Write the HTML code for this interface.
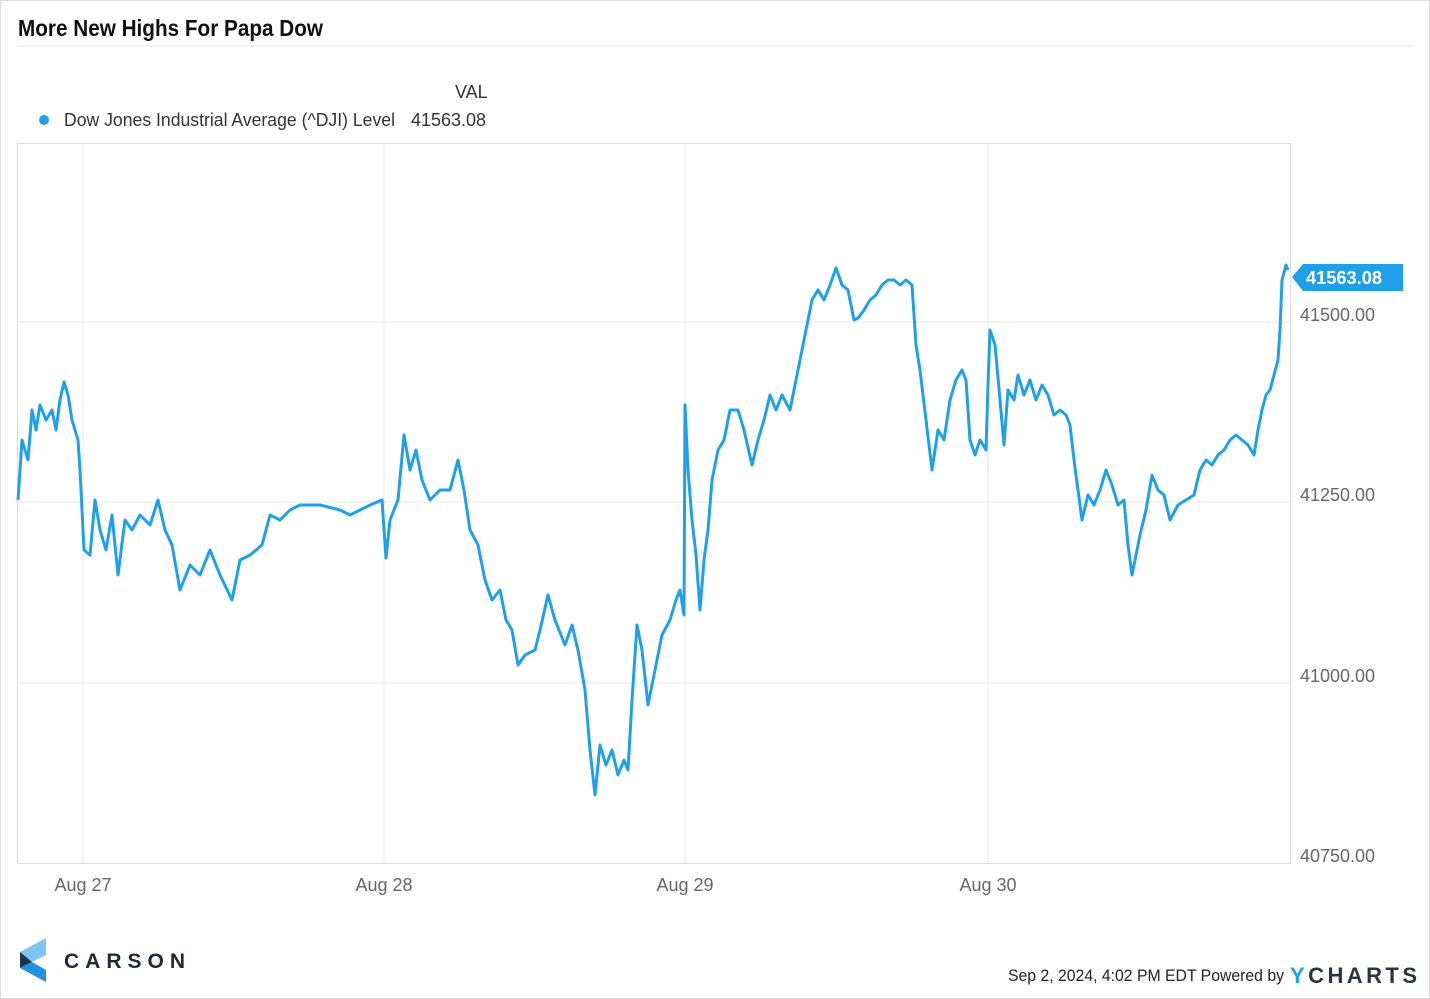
<!DOCTYPE html>
<html><head><meta charset="utf-8"><style>
html,body{margin:0;padding:0;background:#fff;width:1430px;height:999px;overflow:hidden;font-family:"Liberation Sans",sans-serif;}
</style></head><body>
<svg width="1430" height="999" viewBox="0 0 1430 999" xmlns="http://www.w3.org/2000/svg">
<rect x="0.5" y="0.5" width="1429" height="998" fill="#fff" stroke="#ddd"/>
<text x="18" y="36" font-size="23" font-weight="bold" fill="#111" textLength="305" lengthAdjust="spacingAndGlyphs">More New Highs For Papa Dow</text>
<line x1="17" y1="46" x2="1413" y2="46" stroke="#e3e3e3"/>
<text x="455" y="98" font-size="18" fill="#333">VAL</text>
<circle cx="44" cy="120" r="5" fill="#1fa0e8"/>
<text x="64" y="126" font-size="18" fill="#333" textLength="331" lengthAdjust="spacingAndGlyphs">Dow Jones Industrial Average (^DJI) Level</text>
<text x="411" y="126" font-size="18" fill="#333" textLength="75" lengthAdjust="spacingAndGlyphs">41563.08</text>
<rect x="17.5" y="143.5" width="1273" height="720" fill="none" stroke="#ddd"/>
<g stroke="#e8e8e8">
<line x1="17" y1="322" x2="1290" y2="322"/><line x1="17" y1="502" x2="1290" y2="502"/><line x1="17" y1="683" x2="1290" y2="683"/>
<line x1="83" y1="143" x2="83" y2="863"/><line x1="384" y1="143" x2="384" y2="863"/><line x1="685" y1="143" x2="685" y2="863"/><line x1="988" y1="143" x2="988" y2="863"/>
</g>
<g font-size="18" fill="#666">
<text x="1300" y="321" textLength="75" lengthAdjust="spacingAndGlyphs">41500.00</text><text x="1300" y="501" textLength="75" lengthAdjust="spacingAndGlyphs">41250.00</text><text x="1300" y="682" textLength="75" lengthAdjust="spacingAndGlyphs">41000.00</text><text x="1300" y="862" textLength="75" lengthAdjust="spacingAndGlyphs">40750.00</text>
<text x="83" y="891" text-anchor="middle">Aug 27</text><text x="384" y="891" text-anchor="middle">Aug 28</text><text x="685" y="891" text-anchor="middle">Aug 29</text><text x="988" y="891" text-anchor="middle">Aug 30</text>
</g>
<polyline fill="none" stroke="#1fa0e8" stroke-width="3" stroke-linejoin="round" points="18,500 22,440 28,460 32,410 36,430 40,405 46,420 52,410 56,430 60,400 64,382 68,395 72,420 78,440 80,470 84,550 90,555 95,500 100,530 106,550 112,515 118,575 125,520 132,530 140,515 150,525 158,500 165,530 172,545 180,590 190,565 200,575 210,550 220,575 232,600 240,560 250,555 262,545 270,515 280,520 290,510 300,505 320,505 340,510 350,515 370,505 382,500 386,558 390,520 398,500 404,435 410,470 416,450 422,480 430,500 440,490 450,490 458,460 464,490 470,530 478,545 485,580 492,600 500,590 506,620 512,630 518,665 525,655 535,650 540,630 548,595 555,620 565,645 572,625 578,650 585,690 590,750 595,795 600,745 606,765 612,750 618,775 624,760 628,770 632,700 637,625 642,650 648,705 655,670 662,635 670,620 676,600 680,590 684,615 685,405 688,470 692,520 696,555 700,610 704,560 708,530 712,480 718,450 724,440 730,410 738,410 744,430 752,465 758,440 764,420 770,395 776,410 782,395 790,410 796,380 802,350 806,330 812,300 818,290 824,300 830,285 836,268 842,285 848,290 854,320 858,318 864,310 870,300 876,295 882,285 888,280 894,280 900,285 906,280 912,285 916,345 920,370 926,420 932,470 938,430 944,440 950,400 956,380 962,370 966,380 970,440 975,455 980,440 986,450 988,385 990,330 995,345 1000,400 1004,445 1008,390 1014,400 1018,375 1024,395 1030,380 1036,400 1042,385 1048,395 1054,415 1060,410 1066,415 1070,425 1074,460 1078,490 1082,520 1088,495 1094,505 1100,490 1106,470 1112,485 1118,505 1124,500 1128,545 1132,575 1136,555 1140,535 1146,510 1152,475 1158,490 1164,495 1170,520 1178,505 1186,500 1194,495 1200,470 1206,460 1212,465 1218,455 1224,450 1230,440 1236,435 1242,440 1248,445 1254,455 1258,430 1262,410 1266,395 1270,390 1274,375 1278,360 1280,330 1282,280 1286,265 1288,270"/>
<polygon points="1292,277 1303,264 1403,264 1403,291 1303,291" fill="#1fa0e8"/>
<text x="1306" y="284" font-size="18" font-weight="bold" fill="#fff" textLength="76" lengthAdjust="spacingAndGlyphs">41563.08</text>
<polygon points="20,952 46,938 46,955 32,962" fill="#7cc4f2"/>
<polygon points="20,952 32,962 20,968" fill="#1a3550"/>
<polygon points="20,968 32,962 46,970 46,982" fill="#1f8fe0"/>
<text x="64" y="968" font-size="21" font-weight="bold" fill="#1e2a3a" letter-spacing="6">CARSON</text>
<text x="1008" y="981" font-size="17" fill="#222" textLength="276" lengthAdjust="spacingAndGlyphs">Sep 2, 2024, 4:02 PM EDT Powered by</text>
<text x="1290" y="983" font-size="22" font-weight="bold" fill="#2a3440" textLength="127" lengthAdjust="spacing"><tspan fill="#1fa0e8">Y</tspan>CHARTS</text>
</svg>
</body></html>
